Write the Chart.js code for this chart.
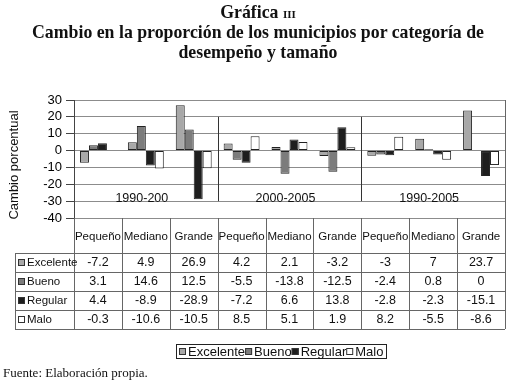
<!DOCTYPE html>
<html><head><meta charset="utf-8">
<script src="https://cdn.jsdelivr.net/npm/chart.js@4.4.0/dist/chart.umd.min.js"></script>
<style>
html,body{margin:0;padding:0;background:#fff;width:508px;height:384px;overflow:hidden}
#wrap{position:relative;width:508px;height:384px}
canvas{position:absolute;left:0;top:0}
.t{position:absolute;left:4px;width:508px;text-align:center;font-family:"Liberation Serif","Times New Roman",serif;font-weight:bold;font-size:17.8px;color:#111;line-height:20px;white-space:nowrap}
.sc{font-variant:small-caps;font-size:15px}
#foot{position:absolute;left:3px;top:366px;font-family:"Liberation Serif",serif;font-size:13px;color:#111;line-height:14px}
</style>
</head><body>
<div id="wrap">
<canvas id="c" width="508" height="384"></canvas>
<div class="t" style="top:2px">Gráfica <span class="sc">iii</span></div>
<div class="t" style="top:22px">Cambio en la proporción de los municipios por categoría de</div>
<div class="t" style="top:42px">desempeño y tamaño</div>
<div id="foot">Fuente: Elaboración propia.</div>
</div>
<script>
const categories = ['Pequeño','Mediano','Grande','Pequeño','Mediano','Grande','Pequeño','Mediano','Grande'];
const groups = ['1990-200','2000-2005','1990-2005'];
const seriesNames = ['Excelente','Bueno','Regular','Malo'];
const excelente = [-7.2, 4.9, 26.9, 4.2, 2.1, -3.2, -3, 7, 23.7];
const bueno     = [3.1, 14.6, 12.5, -5.5, -13.8, -12.5, -2.4, 0.8, 0];
const regular   = [4.4, -8.9, -28.9, -7.2, 6.6, 13.8, -2.8, -2.3, -15.1];
const malo      = [-0.3, -10.6, -10.5, 8.5, 5.1, 1.9, 8.2, -5.5, -8.6];
const yTicks = {min:-40, max:30, step:10};
const yTitle = 'Cambio porcentual';

const colors = ['#a8a8a8','#7c7c7c','#1e1e1e','#ffffff'];
const seriesValues = [excelente, bueno, regular, malo];
const SANS = '"Liberation Sans", Arial, sans-serif';

function px(v){ return Math.round(v) + 0.5; }

const tablePlugin = {
  id: 'tbl',
  afterDraw(chart){
    const {ctx, chartArea:a, scales:{x, y}} = chart;
    const n = categories.length;
    const cx = i => x.getPixelForValue(i);
    const edges = [a.left];
    for (let i = 0; i < n-1; i++) edges.push((cx(i)+cx(i+1))/2);
    edges.push(a.right);
    ctx.save();
    ctx.strokeStyle = '#333'; ctx.lineWidth = 1;
    for (let g = 1; g < groups.length; g++) {
      const ex = px(edges[g*3]);
      ctx.beginPath(); ctx.moveTo(ex, y.getPixelForValue(20)); ctx.lineTo(ex, y.getPixelForValue(-30)); ctx.stroke();
    }
    ctx.fillStyle = '#111';
    ctx.font = '12.5px ' + SANS;
    ctx.textAlign = 'center'; ctx.textBaseline = 'alphabetic';
    groups.forEach((g, k) => {
      const c = (cx(k*3) + cx(k*3+2))/2 - 4;
      ctx.fillText(g, c, y.getPixelForValue(-30) + 1);
    });
    ctx.save();
    ctx.translate(14, 165); ctx.rotate(-Math.PI/2);
    ctx.font = '13px ' + SANS; ctx.textAlign='center'; ctx.textBaseline='middle';
    ctx.fillText(yTitle, 0, 0);
    ctx.restore();

    const top = a.bottom, headH = 35, rowH = 19, leftX = 15;
    const rows = seriesNames.length;
    const bottom = top + headH + rowH*rows;
    ctx.strokeStyle = '#666';
    ctx.beginPath(); ctx.moveTo(px(a.right), a.top); ctx.lineTo(px(a.right), bottom); ctx.stroke();
    edges.forEach(ex => { ctx.beginPath(); ctx.moveTo(px(ex), top); ctx.lineTo(px(ex), bottom); ctx.stroke(); });
    ctx.beginPath(); ctx.moveTo(px(leftX), top+headH); ctx.lineTo(px(leftX), bottom); ctx.stroke();
    for (let r = 0; r <= rows; r++) {
      const yy = px(top + headH + r*rowH);
      ctx.beginPath(); ctx.moveTo(leftX, yy); ctx.lineTo(a.right, yy); ctx.stroke();
    }
    ctx.fillStyle = '#111';
    ctx.font = '11.5px ' + SANS; ctx.textAlign = 'center'; ctx.textBaseline = 'middle';
    categories.forEach((c, i) => ctx.fillText(c, cx(i), top + headH/2 + 1));
    seriesNames.forEach((name, r) => {
      const ym = top + headH + r*rowH + rowH/2 + 0.5;
      ctx.fillStyle = colors[r]; ctx.strokeStyle = '#333';
      ctx.fillRect(18, Math.round(ym)-4, 7, 7);
      ctx.strokeRect(18.5, Math.round(ym)-3.5, 6, 6);
      ctx.fillStyle = '#111'; ctx.font = '11.5px ' + SANS; ctx.textAlign='left';
      ctx.fillText(name, 27, ym);
      ctx.textAlign = 'center'; ctx.font = '12.5px ' + SANS;
      seriesValues[r].forEach((v, i) => ctx.fillText(String(v), cx(i), ym));
    });
    ctx.font = '13px ' + SANS;
    const box = 8, gap = 1;
    const widths = seriesNames.map(s => ctx.measureText(s).width);
    let total = 6;
    widths.forEach(w => total += box + gap + w);
    const lx0 = Math.round(281.5 - total/2), ly0 = 344, lh = 14;
    ctx.strokeStyle = '#222';
    ctx.strokeRect(lx0 + 0.5, ly0 + 0.5, Math.round(total), lh);
    let xx = lx0 + 3;
    const lym = ly0 + lh/2 + 1;
    seriesNames.forEach((s, r) => {
      ctx.fillStyle = colors[r];
      ctx.fillRect(xx, Math.round(lym) - 4, 7, 7);
      ctx.strokeStyle = '#333';
      ctx.strokeRect(xx + 0.5, Math.round(lym) - 3.5, 6, 6);
      ctx.fillStyle = '#111'; ctx.textAlign = 'left'; ctx.textBaseline = 'middle';
      ctx.fillText(s, xx + box + gap, lym);
      xx += box + gap + widths[r];
    });
    ctx.restore();
  }
};

new Chart(document.getElementById('c'), {
  type: 'bar',
  data: {
    labels: categories,
    datasets: seriesNames.map((name, i) => ({
      label: name,
      data: seriesValues[i],
      backgroundColor: colors[i],
      borderColor: '#222',
      borderWidth: 1,
      borderSkipped: false
    }))
  },
  options: {
    responsive: false,
    animation: false,
    devicePixelRatio: 1,
    layout: {padding: {left: 0, top: 100, right: 3, bottom: 166}},
    datasets: {bar: {categoryPercentage: 0.75, barPercentage: 1}},
    plugins: {legend: {display: false}, tooltip: {enabled: false}, title: {display: false}},
    scales: {
      x: {display: false},
      y: {
        min: yTicks.min, max: yTicks.max,
        ticks: {stepSize: yTicks.step, autoSkip: false, color: '#000', padding: 4, font: {family: SANS, size: 13}},
        grid: {color: '#8c8c8c', tickColor: '#444', tickLength: 8},
        border: {color: '#444'},
        afterFit(s){ s.width = 74; }
      }
    }
  },
  plugins: [tablePlugin]
});
</script>
</body></html>
